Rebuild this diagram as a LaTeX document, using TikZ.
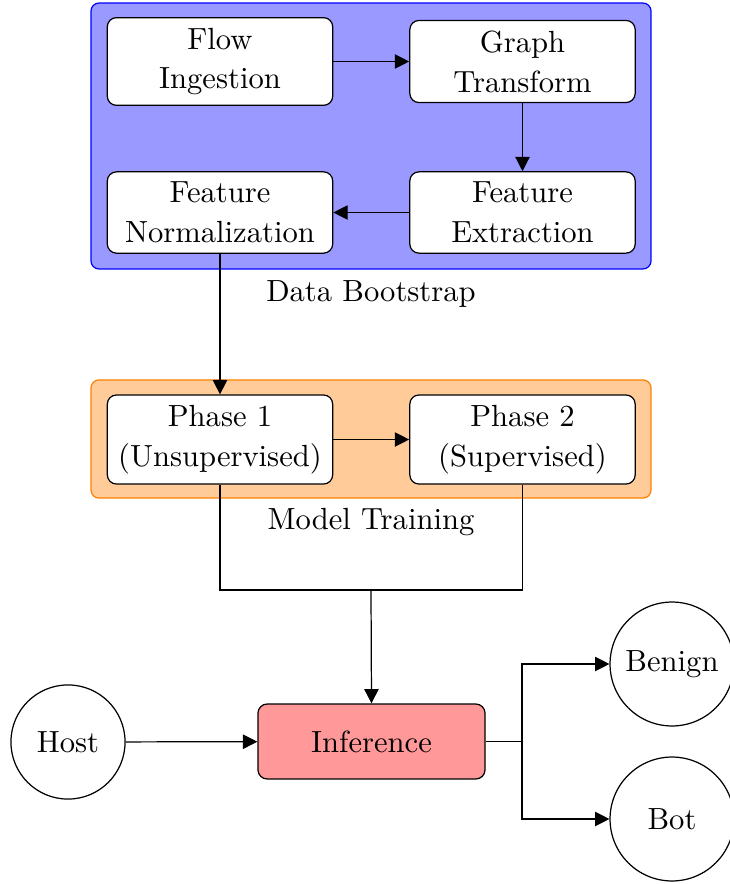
\documentclass[tikz,border=0pt]{standalone}
\usetikzlibrary{arrows.meta}
\begin{document}
\begin{tikzpicture}[x=0.3268pt,y=-0.3268pt,
  container/.style={rounded corners=2.6pt, inner sep=0pt},
  stepbox/.style={draw, rounded corners=3pt, fill=white, text width=67pt, align=center, inner sep=3.33pt, font=\fontsize{10}{13}\selectfont},
  roundnode/.style={draw, circle, inner sep=0pt},
  arrow/.style={-{Triangle[length=4.7pt,width=4.7pt]}}]
\useasboundingbox (0,0) rectangle (730,884);
% containers
\node (boot) [container, draw=blue, fill=blue!40, minimum width=183pt, minimum height=86.9pt] at (371,136) {};
\node (bootlabel) at (371,294) {Data Bootstrap};
\node (train) [container, draw=orange, fill=orange!40, minimum width=183pt, minimum height=38.6pt] at (371,439) {};
\node (trainlabel) at (371,522) {Model Training};
% steps
\node (flow) [stepbox] at (220,61.5) {Flow\\Ingestion};
\node (graph) [stepbox] at (522.5,61.5) {Graph\\Transform};
\node (fext) [stepbox] at (522.5,212.5) {Feature\\Extraction};
\node (fnorm) [stepbox] at (220,212.5) {Feature\\Normalization};
\node (p1) [stepbox] at (220,439.5) {Phase 1\\(Unsupervised)};
\node (p2) [stepbox] at (522.5,439.5) {Phase 2\\(Supervised)};
\node (inf) [draw, rounded corners=3pt, fill=red!40, minimum width=74.2pt, minimum height=24.5pt] at (371.5,741.5) {Inference};
\node (host) [roundnode, minimum size=37.3pt] at (68,742) {Host};
\node (benign) [roundnode, minimum size=40.5pt] at (672,664) {Benign};
\node (bot) [roundnode, minimum size=40.5pt] at (672,819) {Bot};
\coordinate (merge) at (371,590);
\coordinate (split) at (522,741.5);
% connectors
\draw[arrow] (flow) -- (graph);
\draw[arrow] (graph) -- (fext);
\draw[arrow] (fext) -- (fnorm);
\draw[arrow] (fnorm.south) -- (p1.north);
\draw[arrow] (p1) -- (p2);
\draw (p1.south) |- (merge) -| (p2.south);
\draw[arrow] (merge) -- (inf.north);
\draw[arrow] (host) -- (inf);
\draw (inf.east) -- (split);
\draw[arrow] (split) |- (benign.west);
\draw[arrow] (split) |- (bot.west);
\end{tikzpicture}
\end{document}
